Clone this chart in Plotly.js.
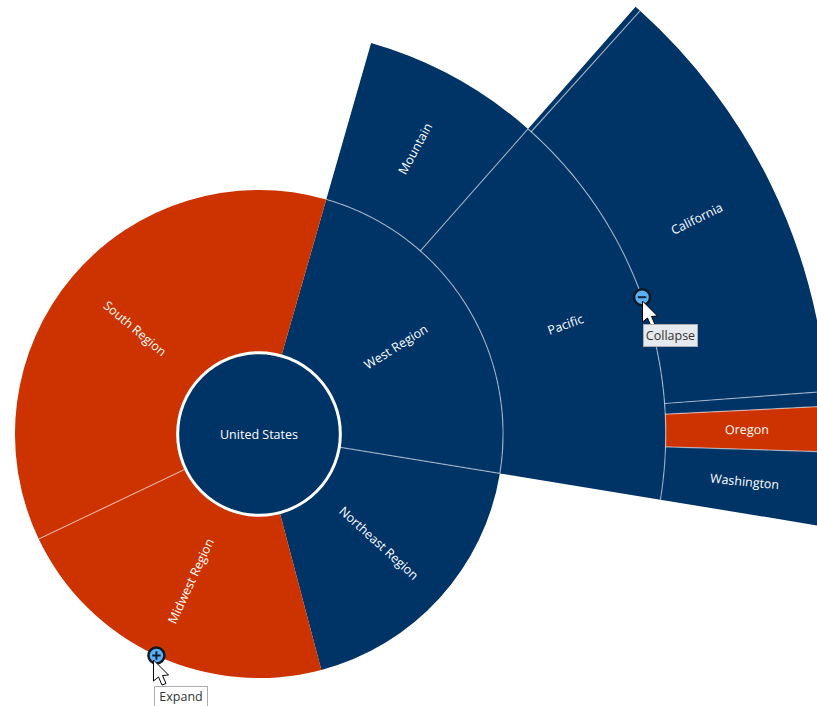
<!DOCTYPE html>
<html>
<head>
<meta charset="utf-8">
<script src="https://cdn.plot.ly/plotly-3.0.1.min.js"></script>
<style>
html,body{margin:0;padding:0;width:817px;height:706px;overflow:hidden;background:#fff}
#wrap{position:absolute;left:0;top:0;width:817px;height:706px;overflow:hidden}
#chart{position:absolute;left:-341.5px;top:-166px;width:1200px;height:1200px}
</style>
</head>
<body>
<div id="wrap"><div id="chart"></div></div>
<script>
// Sweep of each segment, in degrees of the full circle
const rootName = "United States";
const regionNames = ["West Region", "Northeast Region", "Midwest Region", "South Region"];
const regionValues = [83.3, 65.9, 79.3, 131.5];
const regionColors = ["#003366", "#003366", "#cc3300", "#cc3300"];
const westNames = ["Mountain", "Pacific"];
const westValues = [25.4, 57.9];
const westColors = ["#003366", "#003366"];
const pacificNames = ["Alaska", "California", "Hawaii", "Oregon", "Washington"];
const pacificValues = [0.6, 43.7, 1.5, 4.6, 7.5];
const pacificColors = ["#003366", "#003366", "#003366", "#cc3300", "#003366"];
const pacificLabelled = [false, true, false, true, true];
const firstAngle = 16.0;

const SIZE = 1200, UNIT = 162.7, CX = 258.5, CY = 434;
const RMAX = SIZE / 2 / UNIT;
const SEP = "rgba(255,255,255,0.5)";
const NAVY = "#003366";
const FONT = "Open Sans, sans-serif";

function ring(names, values, colors, start, base) {
  let a = start;
  return names.map((n, i) => {
    const s = { name: n, start: a, end: a + values[i], mid: a + values[i] / 2, base: base, color: colors[i] };
    a += values[i];
    return s;
  });
}
const ring1 = ring(regionNames, regionValues, regionColors, firstAngle, 0.5);
const ring2 = ring(westNames, westValues, westColors, ring1[0].start, 1.5);
const ring3 = ring(pacificNames, pacificValues, pacificColors, ring2[1].start, 2.5);
const all = ring1.concat(ring2, ring3);

const bars = {
  type: "barpolar",
  theta: all.map(s => s.mid),
  width: all.map(s => s.end - s.start),
  r: all.map(() => 1),
  base: all.map(s => s.base),
  marker: { color: all.map(s => s.color), line: { width: 0 } },
  hoverinfo: "skip"
};

function radial(theta, r0, r1) { return { r: [r0, r1, null], theta: [theta, theta, null] }; }
function arc(a0, a1, r) {
  const rr = [], tt = [];
  for (let a = a0; a < a1; a += 0.5) { rr.push(r); tt.push(a); }
  rr.push(r, null); tt.push(a1, null);
  return { r: rr, theta: tt };
}
const sepParts = [
  radial(ring1[0].end, 0.5, 1.5),              // West / Northeast
  radial(ring1[2].end, 0.5, 1.5),              // Midwest / South
  radial(ring2[0].end, 1.5, 2.5),              // Mountain / Pacific
  radial(ring3[0].end, 2.5, 3.5),
  radial(ring3[1].end, 2.5, 3.5),
  radial(ring3[2].end, 2.5, 3.5),
  radial(ring3[3].end, 2.5, 3.5),
  arc(ring1[0].start, ring1[0].end, 1.5),
  arc(ring2[1].start, ring2[1].end, 2.5)
];
const separators = {
  type: "scatterpolar", mode: "lines",
  r: [].concat(...sepParts.map(p => p.r)),
  theta: [].concat(...sepParts.map(p => p.theta)),
  line: { color: SEP, width: 1.2 },
  hoverinfo: "skip", connectgaps: false
};
const root = {
  type: "barpolar", theta: [180], width: [360], r: [0.5], base: [0],
  marker: { color: NAVY, line: { color: "#ffffff", width: 3 } },
  hoverinfo: "skip"
};
const toggles = [
  { seg: ring1[2], r: 1.5, glyph: "cross-thin" },
  { seg: ring2[1], r: 2.5, glyph: "line-ew" }
];
const dots = {
  type: "scatterpolar", mode: "markers",
  r: toggles.map(t => t.r), theta: toggles.map(t => t.seg.mid),
  marker: { size: 16, color: "#5cb0f6", line: { color: "#0d1a26", width: 2.5 } },
  hoverinfo: "skip"
};
const glyphs = {
  type: "scatterpolar", mode: "markers",
  r: toggles.map(t => t.r), theta: toggles.map(t => t.seg.mid),
  marker: { size: 6, symbol: toggles.map(t => t.glyph), color: "#102030", line: { color: "#102030", width: 2 } },
  hoverinfo: "skip"
};

// paper coordinates helpers
const polarX = (r, a) => 0.5 + r * Math.sin(a * Math.PI / 180) / (2 * RMAX);
const polarY = (r, a) => 0.5 + r * Math.cos(a * Math.PI / 180) / (2 * RMAX);
const pageX = x => (x - CX) / SIZE + 0.5;
const pageY = y => 0.5 - (y - CY) / SIZE;

function segLabel(s) {
  const rot = s.mid < 180 ? s.mid - 90 : s.mid - 270;
  return {
    text: s.name, xref: "paper", yref: "paper",
    x: polarX(s.base + 0.5, s.mid), y: polarY(s.base + 0.5, s.mid),
    xanchor: "center", yanchor: "middle", showarrow: false, textangle: rot,
    font: { family: FONT, size: 12.5, color: "#ffffff" }
  };
}
const labelled = ring1.concat(ring2, ring3.filter((s, i) => pacificLabelled[i]));
const annotations = labelled.map(segLabel);
annotations.push({
  text: rootName, xref: "paper", yref: "paper", x: 0.5, y: 0.5,
  xanchor: "center", yanchor: "middle", showarrow: false,
  font: { family: FONT, size: 12.5, color: "#ffffff" }
});

function tip(text, left, top, w, h, bg) {
  return {
    text: text, xref: "paper", yref: "paper", x: pageX(left), y: pageY(top),
    xanchor: "left", yanchor: "top", showarrow: false, width: w, height: h,
    bgcolor: bg, bordercolor: "#a9adb3", borderwidth: 1, borderpad: 0, align: "center",
    font: { family: FONT, size: 12.5, color: "#333333" }
  };
}
annotations.push(tip("Expand", 153, 686, 52, 19, "#ffffff"));
annotations.push(tip("Collapse", 642, 324, 53, 21, "#e6e9ee"));

const arrow = [[0,0],[0,21],[5,17],[8.5,25],[12.5,23.5],[9,15.5],[15,15]];
function cursor(x, y) {
  const d = arrow.map((p, i) => (i ? "L" : "M") + pageX(x + p[0]) + "," + pageY(y + p[1])).join(" ") + " Z";
  return { type: "path", xref: "paper", yref: "paper", path: d, fillcolor: "#ffffff", line: { color: "#000000", width: 1 } };
}

Plotly.newPlot("chart", [bars, separators, root, dots, glyphs], {
  width: SIZE, height: SIZE,
  margin: { l: 0, r: 0, t: 0, b: 0, pad: 0 },
  paper_bgcolor: "#ffffff", showlegend: false, barmode: "overlay",
  polar: {
    domain: { x: [0, 1], y: [0, 1] },
    bgcolor: "rgba(0,0,0,0)",
    radialaxis: { visible: false, range: [0, RMAX] },
    angularaxis: { visible: false, direction: "clockwise", rotation: 90, thetaunit: "degrees" }
  },
  annotations: annotations,
  shapes: [cursor(153, 660), cursor(642, 301)]
}, { displayModeBar: false, staticPlot: true });
</script>
</body>
</html>
